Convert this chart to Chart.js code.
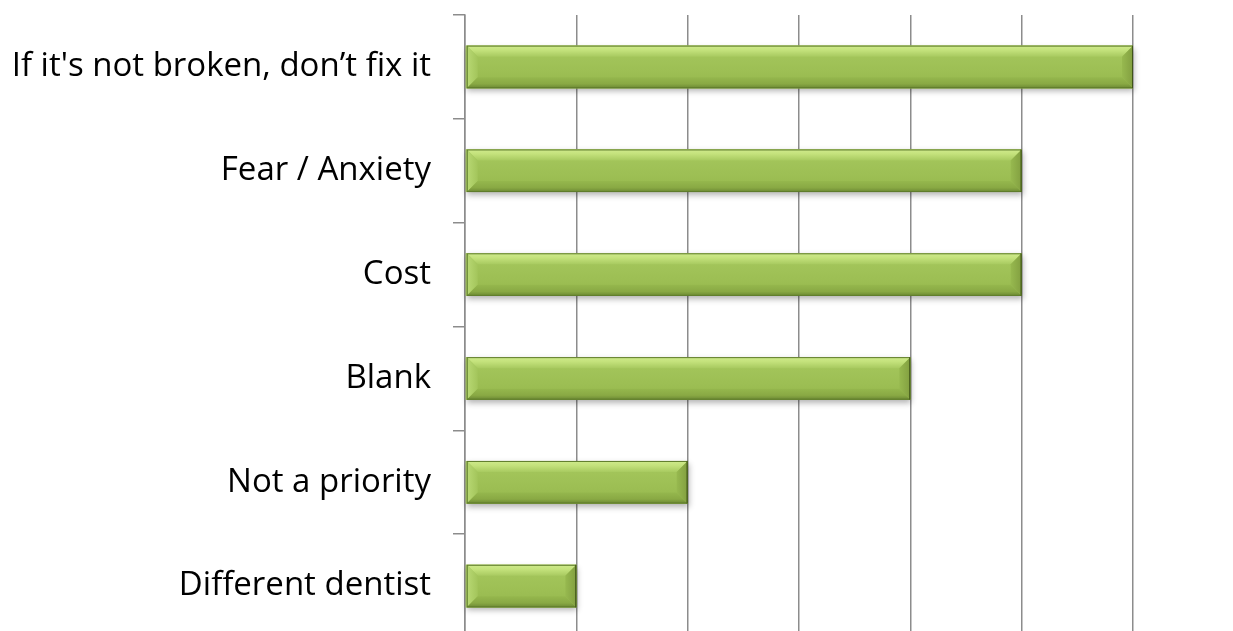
<!DOCTYPE html>
<html>
<head>
<meta charset="utf-8">
<script src="https://cdn.jsdelivr.net/npm/chart.js@4"></script>
<style>
    html, body { margin: 0; padding: 0; background: #fff; overflow: hidden; }
    #wrap { width: 1233px; height: 640px; }
</style>
</head>
<body>
<div id="wrap"><canvas id="barChart" width="1233" height="640"></canvas></div>
<script>
const categories = [
    "If it's not broken, don\u2019t fix it",
    "Fear / Anxiety",
    "Cost",
    "Blank",
    "Not a priority",
    "Different dentist"
];
const counts = [6, 5, 5, 4, 2, 1];
const axisMax = 6;

const gridColor = '#8c8c8c';

// efeito de bisel em cada barra, a partir das posições calculadas pelo Chart.js
const bevelPlugin = {
    id: 'bevel',
    beforeDatasetsDraw(chart) {
        const ctx = chart.ctx;
        chart.getDatasetMeta(0).data.forEach(bar => {
            const x0 = Math.min(bar.base, bar.x);
            const x1 = Math.max(bar.base, bar.x);
            const y0 = bar.y - bar.height / 2;
            ctx.save();
            ctx.shadowColor = 'rgba(0,0,0,0.3)';
            ctx.shadowBlur = 6;
            ctx.shadowOffsetY = 3;
            ctx.shadowOffsetX = 1;
            ctx.fillStyle = '#8aa84a';
            ctx.fillRect(x0, y0, x1 - x0, bar.height);
            ctx.restore();
        });
    },
    afterDatasetsDraw(chart) {
        const ctx = chart.ctx;
        chart.getDatasetMeta(0).data.forEach(bar => {
            const x0 = Math.min(bar.base, bar.x) + 1;
            const x1 = Math.max(bar.base, bar.x);
            const y0 = bar.y - bar.height / 2;
            const y1 = bar.y + bar.height / 2;
            const b = Math.min(11, (x1 - x0) / 3);

            ctx.save();
            // face
            const face = ctx.createLinearGradient(0, y0, 0, y1);
            face.addColorStop(0, '#a6c85e');
            face.addColorStop(0.6, '#9dbf54');
            face.addColorStop(1, '#95b74d');
            ctx.fillStyle = face;
            ctx.fillRect(x0, y0, x1 - x0, y1 - y0);

            // faixa superior
            const top = ctx.createLinearGradient(0, y0, 0, y0 + b);
            top.addColorStop(0, '#cfea8c');
            top.addColorStop(0.4, '#c4e27c');
            top.addColorStop(1, '#a8ca60');
            ctx.fillStyle = top;
            ctx.beginPath();
            ctx.moveTo(x0, y0); ctx.lineTo(x1, y0); ctx.lineTo(x1 - b, y0 + b); ctx.lineTo(x0 + b, y0 + b);
            ctx.closePath(); ctx.fill();

            // faixa esquerda
            const left = ctx.createLinearGradient(x0, 0, x0 + b, 0);
            left.addColorStop(0, '#b9d974');
            left.addColorStop(1, '#a3c55b');
            ctx.fillStyle = left;
            ctx.beginPath();
            ctx.moveTo(x0, y0); ctx.lineTo(x0 + b, y0 + b); ctx.lineTo(x0 + b, y1 - b); ctx.lineTo(x0, y1);
            ctx.closePath(); ctx.fill();

            // faixa inferior
            const bot = ctx.createLinearGradient(0, y1 - b, 0, y1);
            bot.addColorStop(0, '#95b74d');
            bot.addColorStop(0.6, '#89a944');
            bot.addColorStop(1, '#6b8833');
            ctx.fillStyle = bot;
            ctx.beginPath();
            ctx.moveTo(x0, y1); ctx.lineTo(x0 + b, y1 - b); ctx.lineTo(x1 - b, y1 - b); ctx.lineTo(x1, y1);
            ctx.closePath(); ctx.fill();

            // faixa direita
            const right = ctx.createLinearGradient(x1 - b, 0, x1, 0);
            right.addColorStop(0, '#97b94f');
            right.addColorStop(1, '#829f40');
            ctx.fillStyle = right;
            ctx.beginPath();
            ctx.moveTo(x1, y0); ctx.lineTo(x1, y1); ctx.lineTo(x1 - b, y1 - b); ctx.lineTo(x1 - b, y0 + b);
            ctx.closePath(); ctx.fill();

            // contorno
            ctx.strokeStyle = '#5f7c2c';
            ctx.lineWidth = 1;
            ctx.strokeRect(x0 + 0.5, y0 + 0.5, x1 - x0 - 1, y1 - y0 - 1);
            ctx.strokeStyle = '#3f5319';
            ctx.beginPath();
            ctx.moveTo(x1 - 0.5, y0); ctx.lineTo(x1 - 0.5, y1);
            ctx.stroke();
            ctx.restore();
        });
    }
};

new Chart(document.getElementById('barChart').getContext('2d'), {
    type: 'bar',
    data: {
        labels: categories,
        datasets: [{
            data: counts,
            backgroundColor: '#9bbb59',
            borderWidth: 0,
            barPercentage: 0.41,
            categoryPercentage: 1
        }]
    },
    options: {
        indexAxis: 'y',
        responsive: false,
        animation: false,
        layout: { padding: { top: 15, right: 100, bottom: 2, left: 0 } },
        plugins: {
            legend: { display: false },
            tooltip: { enabled: false }
        },
        scales: {
            x: {
                min: 0,
                max: axisMax,
                ticks: { display: false, stepSize: 1 },
                grid: { color: gridColor, lineWidth: 1.5, drawTicks: false },
                border: { display: false },
                afterFit(scale) {
                    scale.height = 0;
                    scale.paddingLeft = 0;
                    scale.paddingRight = 0;
                }
            },
            y: {
                ticks: {
                    color: '#000',
                    padding: 22,
                    font: { family: "'Open Sans', sans-serif", size: 33 }
                },
                grid: {
                    color: gridColor,
                    lineWidth: 1.5,
                    drawOnChartArea: false,
                    drawTicks: true,
                    tickLength: 12,
                    offset: true
                },
                border: { display: true, color: gridColor, width: 1.5 },
                afterFit(scale) {
                    scale.width = 465;
                    scale.paddingTop = 0;
                    scale.paddingBottom = 0;
                }
            }
        }
    },
    plugins: [bevelPlugin]
});
</script>
</body>
</html>
